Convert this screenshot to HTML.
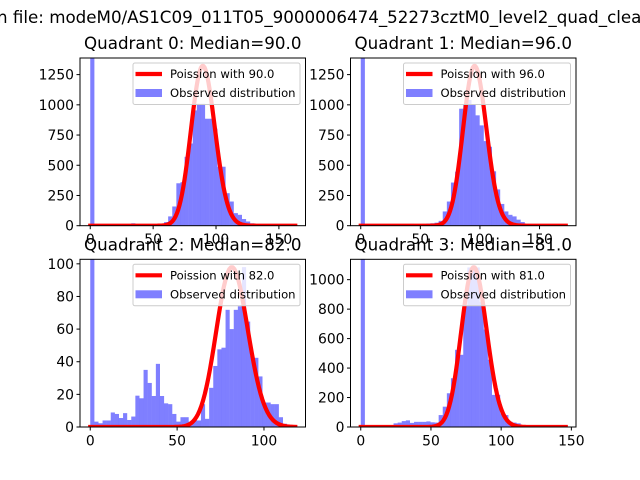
<!DOCTYPE html>
<html><head><meta charset="utf-8">
<style>
html,body{margin:0;padding:0;background:#fff;}
svg{display:block;font-family:"DejaVu Sans","Liberation Sans",sans-serif;}
</style></head>
<body>
<svg id="fig" width="640" height="480" viewBox="0 0 640 480" xmlns="http://www.w3.org/2000/svg">
<rect width="640" height="480" fill="#fff"/>
<text x="-3" y="23" font-size="16.7" fill="#000">n file: modeM0/AS1C09_011T05_9000006474_52273cztM0_level2_quad_clean.evt</text>
</svg>
<script>
// ---- data ----
const titles = ["Quadrant 0: Median=90.0","Quadrant 1: Median=96.0","Quadrant 2: Median=82.0","Quadrant 3: Median=81.0"];
const medians = [90, 96, 82, 81];
const poissonScale = [31450, 32480, 2224, 24480];
const dataMax = [163, 172, 118, 146];
const yTickStep = [250, 250, 20, 200];
const yTickMax = [1250, 1250, 100, 1000];
const xTicks = [[0,50,100,150],[0,50,100,150],[0,50,100],[0,50,100,150]];
const countsQ0 = [1500,0,0,0,0,0,0,0,0,0,20,10,0,10,12,5,10,15,30,77,159,351,360,570,680,954,1009,1009,885,885,803,488,488,269,200,104,90,55,35,20,8,4,0,0,0,0,0,0,0,0];
const countsQ1 = [1500,0,0,0,0,0,0,0,0,0,10,8,15,10,12,15,18,20,25,40,118,200,357,447,968,1000,1040,1000,913,830,700,653,450,300,180,118,90,77,50,30,15,8,5,0,0,0,0,0,0,0];
const countsQ2 = [150,3.3,2.3,4,4,8.9,8,5.5,8.5,4.3,6.4,19.2,17.6,35,27,19,38.7,19,14.5,14,8,3.3,6,6,3.3,5,4,14,5,24,37.4,47.6,48.6,71.8,60,71.8,74,98,64.6,43.6,42.4,31,15,15,14,14,6,2,1,0];
const countsQ3 = [1500,0,0,0,0,0,0,0,25,30,40,45,28,35,35,35,38,32,30,81,138,229,331,524,490,822,1083,1094,1083,850,662,457,218,218,92,81,36,30,25,8,0,0,0,0,0,0,0,0,0,0];
const allCounts = [countsQ0, countsQ1, countsQ2, countsQ3];

const axesBoxes = [
  {x:80, y:58, w:225.5, h:167.7},
  {x:350.5, y:58, w:225.5, h:167.7},
  {x:80, y:259.3, w:225.5, h:167.7},
  {x:350.5, y:259.3, w:225.5, h:167.7}
];
const NS = "http://www.w3.org/2000/svg";
const fig = document.getElementById('fig');
function mk(tag, attrs, parent){
  const e = document.createElementNS(NS, tag);
  for (const k in attrs) e.setAttribute(k, attrs[k]);
  (parent||fig).appendChild(e);
  return e;
}
function lgamma(n){ let s=0; for(let i=2;i<=n;i++) s+=Math.log(i); return s; }
function pmf(k, mu){ return Math.exp(k*Math.log(mu) - mu - lgamma(k)); }

for (let q=0;q<4;q++){
  const b = axesBoxes[q];
  const xmax = dataMax[q];
  const x0 = -0.05*xmax, x1 = 1.05*xmax;
  const curve = [];
  for (let k=0;k<=xmax;k++) curve.push(pmf(k, medians[q])*poissonScale[q]);
  const ytop = 1.05*Math.max(...curve);
  const sx = v => b.x + (v - x0)/(x1 - x0)*b.w;
  const sy = v => b.y + b.h - v/ytop*b.h;

  const g = mk('g', {});
  
  
  const cid = 'clip'+q;
  const cp = mk('clipPath', {id:cid}, g);
  mk('rect', {x:b.x, y:b.y, width:b.w, height:b.h}, cp);
  const plot = mk('g', {'clip-path':'url(#'+cid+')'}, g);

  const counts = allCounts[q];
  const bw = xmax/counts.length;
  counts.forEach((c,i)=>{
    if (c<=0) return;
    const r = mk('rect', {x:sx(i*bw), y:sy(c), width:sx((i+1)*bw)-sx(i*bw)+0.05, height:sy(0)-sy(c), fill:'#0000ff', 'fill-opacity':0.5}, plot);
    
    
  });
  const pts = curve.map((v,k)=>sx(k).toFixed(2)+','+sy(v).toFixed(2)).join(' ');
  const pl = mk('polyline', {points:pts, fill:'none', stroke:'#ff0000', 'stroke-width':4.2, 'stroke-linejoin':'round', 'stroke-linecap':'square'}, plot);
  
  

  const fr = mk('rect', {x:b.x, y:b.y, width:b.w, height:b.h, fill:'none', stroke:'#000', 'stroke-width':1}, g);
  
  

  for (let v=0; v<=yTickMax[q]; v+=yTickStep[q]){
    const y = sy(v);
    mk('line', {x1:b.x-3.5, x2:b.x, y1:y, y2:y, stroke:'#000', 'stroke-width':1}, g);
    const t = mk('text', {x:b.x-6, y:y+5, 'font-size':13.9, 'text-anchor':'end'}, g);
    t.textContent = v;
    
    
  }
  xTicks[q].forEach(v=>{
    const x = sx(v);
    mk('line', {x1:x, x2:x, y1:b.y+b.h, y2:b.y+b.h+3.5, stroke:'#000', 'stroke-width':1}, g);
    const t = mk('text', {x:x, y:b.y+b.h+18.5, 'font-size':13.9, 'text-anchor':'middle'}, g);
    t.textContent = v;
    
    
  });
  const tt = mk('text', {x:b.x+b.w/2, y:b.y-9, 'font-size':16.7, 'text-anchor':'middle'}, g);
  tt.textContent = titles[q];
  
  

  const lg = mk('g', {}, g);
  
  
  const lx = b.x + b.w - 5.5 - 167, ly = b.y + 5;
  mk('rect', {x:lx, y:ly, width:167, height:41.5, rx:2, fill:'#fff', 'fill-opacity':0.8, stroke:'#cccccc', 'stroke-width':1}, lg);
  mk('line', {x1:lx+2.5, x2:lx+29, y1:ly+11, y2:ly+11, stroke:'#ff0000', 'stroke-width':4.2}, lg);
  const t1 = mk('text', {x:lx+37, y:ly+15, 'font-size':11.6}, lg);
  t1.textContent = 'Poission with ' + medians[q].toFixed(1);
  
  
  mk('rect', {x:lx+2.5, y:ly+26, width:26.5, height:8, fill:'#0000ff', 'fill-opacity':0.5}, lg);
  const t2 = mk('text', {x:lx+37, y:ly+34, 'font-size':11.6}, lg);
  t2.textContent = 'Observed distribution';
  
  
}
</script>
</body></html>
